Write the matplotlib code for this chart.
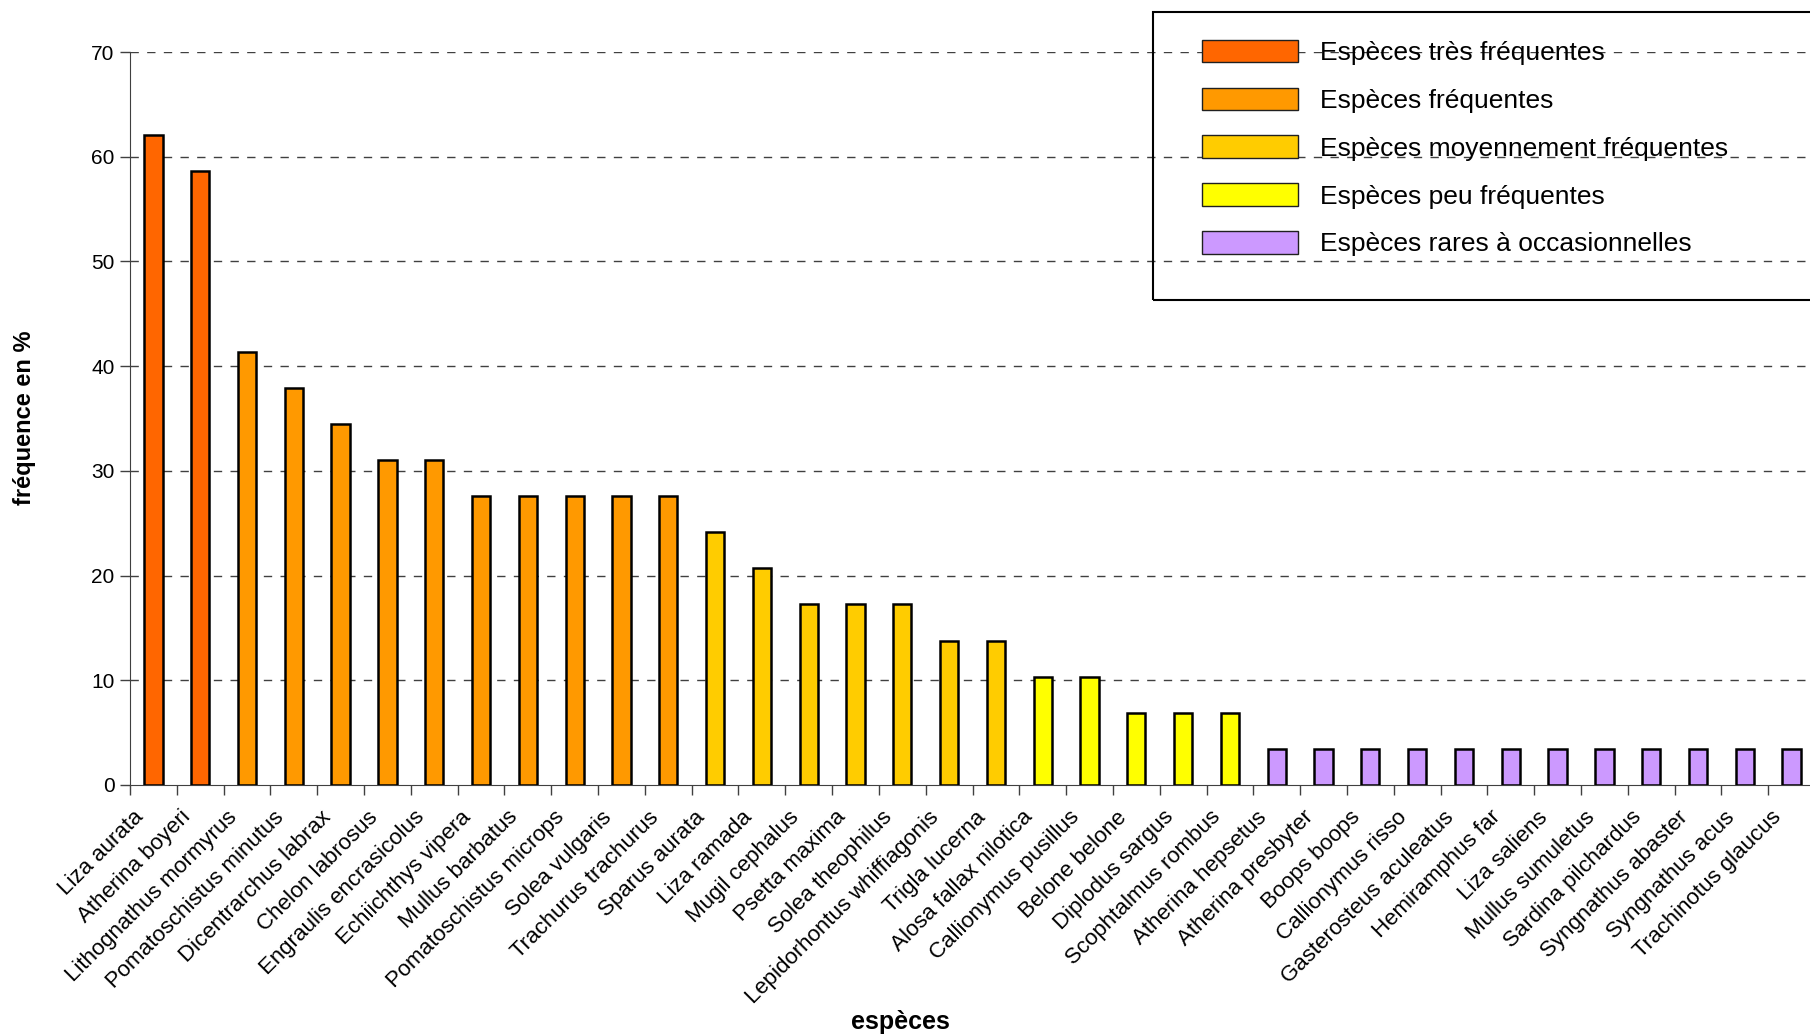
import matplotlib.pyplot as plt
import matplotlib.transforms as mtransforms
from matplotlib.patches import Patch, Rectangle
from matplotlib.ticker import FixedLocator

plt.rcParams['font.family'] = ['Liberation Sans', 'DejaVu Sans']

# Species, occurrence frequency (% of samples) and frequency class
species = [
    "Liza aurata", "Atherina boyeri", "Lithognathus mormyrus",
    "Pomatoschistus minutus", "Dicentrarchus labrax", "Chelon labrosus",
    "Engraulis encrasicolus", "Echiichthys vipera", "Mullus barbatus",
    "Pomatoschistus microps", "Solea vulgaris", "Trachurus trachurus",
    "Sparus aurata", "Liza ramada", "Mugil cephalus", "Psetta maxima",
    "Solea theophilus", "Lepidorhontus whiffiagonis", "Trigla lucerna",
    "Alosa fallax nilotica", "Callionymus pusillus", "Belone belone",
    "Diplodus sargus", "Scophtalmus rombus", "Atherina hepsetus",
    "Atherina presbyter", "Boops boops", "Callionymus risso",
    "Gasterosteus aculeatus", "Hemiramphus far", "Liza saliens",
    "Mullus sumuletus", "Sardina pilchardus", "Syngnathus abaster",
    "Syngnathus acus", "Trachinotus glaucus",
]
frequency = [
    62.07, 58.62, 41.38, 37.93, 34.48, 31.03, 31.03, 27.59, 27.59, 27.59,
    27.59, 27.59, 24.14, 20.69, 17.24, 17.24, 17.24, 13.79, 13.79, 10.34,
    10.34, 6.90, 6.90, 6.90, 3.45, 3.45, 3.45, 3.45, 3.45, 3.45, 3.45,
    3.45, 3.45, 3.45, 3.45, 3.45,
]
freq_class = (["tres"] * 2 + ["freq"] * 10 + ["moyen"] * 7
              + ["peu"] * 5 + ["rare"] * 12)

class_labels = {
    "tres": "Espèces très fréquentes",
    "freq": "Espèces fréquentes",
    "moyen": "Espèces moyennement fréquentes",
    "peu": "Espèces peu fréquentes",
    "rare": "Espèces rares à occasionnelles",
}
class_colors = {
    "tres": "#FF6600",
    "freq": "#FF9900",
    "moyen": "#FFCC00",
    "peu": "#FFFF00",
    "rare": "#CC99FF",
}

W, H = 1810, 1035
fig = plt.figure(figsize=(W / 100, H / 100), dpi=100)
ax = fig.add_axes([130 / W, 1 - 785 / H, (1815 - 130) / W, (785 - 52) / H])

x = list(range(len(species)))
ax.bar(x, frequency, width=0.39,
       color=[class_colors[c] for c in freq_class],
       edgecolor="black", linewidth=1.8, zorder=3)

ax.set_xlim(-0.5, len(species) - 0.5)
ax.set_ylim(0, 70)
ax.set_yticks(range(0, 71, 10))
for yv in range(10, 71, 10):
    ax.axhline(yv, color="#404040", linewidth=1.0, dashes=(6, 6), zorder=1)

# category labels on major ticks, separator ticks between categories
ax.set_xticks(x)
ax.xaxis.set_minor_locator(FixedLocator([i - 0.5 for i in range(len(species) + 1)]))
ax.tick_params(axis="x", which="major", length=0, pad=21)
ax.tick_params(axis="x", which="minor", length=7, width=1.0, color="#404040")
ax.tick_params(axis="y", length=7, width=1.0, color="#404040", labelsize=15, pad=4)
ax.set_xticklabels(species, rotation=45, ha="right", va="center",
                   rotation_mode="anchor", fontsize=16)
# nudge the slanted labels a little to the left (after tick_params, which resets transforms)
shift = mtransforms.ScaledTranslation(-13 / 100, 0, fig.dpi_scale_trans)
for lbl in ax.get_xticklabels():
    lbl.set_transform(lbl.get_transform() + shift)

for side in ("top", "right"):
    ax.spines[side].set_visible(False)
ax.spines["left"].set_color("#404040")
ax.spines["bottom"].set_color("#404040")

fig.text(25 / W, 1 - 418 / H, "fréquence en %", fontsize=17, fontweight="bold",
         rotation=90, ha="center", va="center")
fig.text(900 / W, 1 - 1022 / H, "espèces", fontsize=18, fontweight="bold",
         ha="center", va="center")

# legend box running off the right edge
fig.patches.append(Rectangle((1153 / W, 1 - 300 / H), (W - 1150) / W, 288 / H,
                             transform=fig.transFigure, fill=False,
                             edgecolor="black", linewidth=1.5, zorder=5))
handles = [Patch(facecolor=class_colors[k], edgecolor="#202020", linewidth=1.0,
                 label=class_labels[k]) for k in class_labels]
fig.legend(handles=handles, loc="upper left",
           bbox_to_anchor=(1178 / W, 1 - 16 / H), frameon=False,
           fontsize=19, handlelength=3.64, handleheight=0.94,
           handletextpad=0.83, labelspacing=0.85)

fig.savefig("out.png", dpi=100)
